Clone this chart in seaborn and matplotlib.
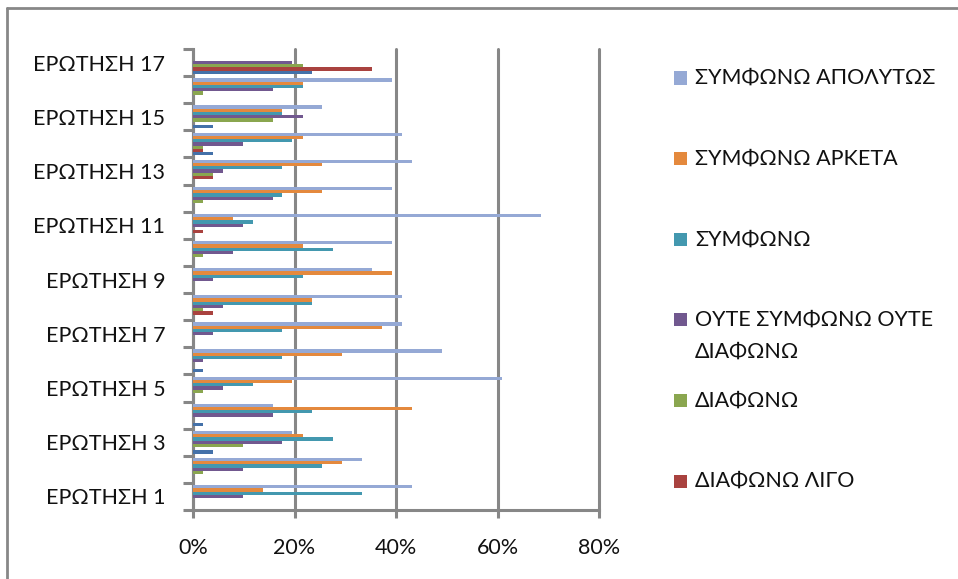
import matplotlib
matplotlib.use("Agg")
import matplotlib.pyplot as plt
from matplotlib.patches import Rectangle
from matplotlib.lines import Line2D
from matplotlib.ticker import FixedLocator, FuncFormatter
import seaborn as sns
import pandas as pd

# Questions (bottom to top on the chart)
questions = [f"ΕΡΩΤΗΣΗ {i}" for i in range(1, 18)]

# Share of answers per question (%), Q1 .. Q17
symfono_apolytos = [43.1, 33.3, 19.6, 15.7, 60.8, 49.0, 41.2, 41.2, 35.3, 39.2, 68.6, 39.2, 43.1, 41.2, 25.5, 39.2, 0.0]
symfono_arketa   = [13.7, 29.4, 21.6, 43.1, 19.6, 29.4, 37.3, 23.5, 39.2, 21.6, 7.8, 25.5, 25.5, 21.6, 17.6, 21.6, 0.0]
symfono          = [33.3, 25.5, 27.5, 23.5, 11.8, 17.6, 17.6, 23.5, 21.6, 27.5, 11.8, 17.6, 17.6, 19.6, 17.6, 21.6, 0.0]
oute_oute        = [9.8, 9.8, 17.6, 15.7, 5.9, 2.0, 3.9, 5.9, 3.9, 7.8, 9.8, 15.7, 5.9, 9.8, 21.6, 15.7, 19.6]
diafono          = [0.0, 2.0, 9.8, 0.0, 2.0, 0.0, 0.0, 2.0, 0.0, 2.0, 0.0, 2.0, 3.9, 2.0, 15.7, 2.0, 21.6]
diafono_ligo     = [0.0, 0.0, 0.0, 0.0, 0.0, 0.0, 0.0, 3.9, 0.0, 0.0, 2.0, 0.0, 3.9, 2.0, 0.0, 0.0, 35.3]
diafono_apolytos = [0.0, 0.0, 3.9, 2.0, 0.0, 2.0, 0.0, 0.0, 0.0, 0.0, 0.0, 0.0, 0.0, 3.9, 3.9, 0.0, 23.5]

series_names = [
    "ΣΥΜΦΩΝΩ ΑΠΟΛΥΤΩΣ",
    "ΣΥΜΦΩΝΩ ΑΡΚΕΤΑ",
    "ΣΥΜΦΩΝΩ",
    "ΟΥΤΕ ΣΥΜΦΩΝΩ ΟΥΤΕ ΔΙΑΦΩΝΩ",
    "ΔΙΑΦΩΝΩ",
    "ΔΙΑΦΩΝΩ ΛΙΓΟ",
    "ΔΙΑΦΩΝΩ ΑΠΟΛΥΤΩΣ",
]
series_values = [symfono_apolytos, symfono_arketa, symfono, oute_oute,
                 diafono, diafono_ligo, diafono_apolytos]
colors = ["#95A9D5", "#E4893D", "#4398AF", "#71588F", "#8AA64F", "#A9423F", "#4471A9"]

# Legend shows the first six series; the long label wraps onto two lines
legend_labels = [
    "ΣΥΜΦΩΝΩ ΑΠΟΛΥΤΩΣ",
    "ΣΥΜΦΩΝΩ ΑΡΚΕΤΑ",
    "ΣΥΜΦΩΝΩ",
    "ΟΥΤΕ ΣΥΜΦΩΝΩ ΟΥΤΕ\nΔΙΑΦΩΝΩ",
    "ΔΙΑΦΩΝΩ",
    "ΔΙΑΦΩΝΩ ΛΙΓΟ",
]

rows = []
for name, vals in zip(series_names, series_values):
    for q, v in zip(questions, vals):
        rows.append({"question": q, "answer": name, "value": v})
df = pd.DataFrame(rows)

sns.set_theme(style="white")
plt.rcParams["font.family"] = ["Lato", "Noto Sans", "DejaVu Sans"]

W, H = 958, 579
fig = plt.figure(figsize=(W / 100, H / 100), dpi=100)
fig.patch.set_facecolor("white")

ax_left, ax_right, ax_top, ax_bottom = 193, 599, 49, 510
ax = fig.add_axes([ax_left / W, 1 - ax_bottom / H,
                   (ax_right - ax_left) / W, (ax_bottom - ax_top) / H])

order = questions[::-1]
sns.barplot(data=df, y="question", x="value", hue="answer", orient="h",
            order=order, hue_order=series_names, palette=colors,
            width=0.84, saturation=1, linewidth=0, legend=False, ax=ax, zorder=3)

grid_c = "#878787"
ax.set_xlim(0, 80)
ax.set_ylim(len(questions) - 0.5, -0.5)
ax.set_xticks([0, 20, 40, 60, 80])
ax.xaxis.set_major_formatter(FuncFormatter(lambda v, _: f"{v:.0f}%"))
ax.grid(axis="x", color=grid_c, linewidth=2.2, zorder=0)
ax.grid(axis="y", visible=False)
for gl in ax.get_xgridlines():
    gl.set_clip_on(False)
ax.set_xlabel("")
ax.set_ylabel("")

# Label every other question; tick marks sit on category boundaries
label_pos = [i for i, q in enumerate(order) if int(q.split()[-1]) % 2 == 1]
ax.set_yticks(label_pos)
ax.set_yticklabels([order[i] for i in label_pos])
ax.yaxis.set_minor_locator(FixedLocator([i - 0.5 for i in range(len(order) + 1)]))
ax.tick_params(axis="y", which="major", length=0, pad=20, labelsize=15.5, labelcolor="#111111")
ax.tick_params(axis="y", which="minor", left=True, length=7, width=2.2, color=grid_c)
ax.tick_params(axis="x", which="major", bottom=True, length=6, width=2.2, color=grid_c,
               pad=14, labelsize=15.5, labelcolor="#111111")

for s in ["top", "right"]:
    ax.spines[s].set_visible(False)
for s in ["left", "bottom"]:
    ax.spines[s].set_color(grid_c)
    ax.spines[s].set_linewidth(2.2)

# Legend entries on the right
sq = 13
text_x = 695
first_y = 78
step = 80.6
for i, (lab, col) in enumerate(zip(legend_labels, colors[:6])):
    yc = first_y + i * step
    fig.patches.append(Rectangle((674 / W, 1 - (yc + sq / 2) / H), sq / W, sq / H,
                                 transform=fig.transFigure, facecolor=col,
                                 edgecolor="none", figure=fig))
    for j, line in enumerate(lab.split("\n")):
        fig.text(text_x / W, 1 - (yc + 32 * j) / H, line, ha="left", va="center",
                 fontsize=15.5, color="#111111")

# Chart frame: top and left edges
fig.add_artist(Line2D([7 / W, 1], [1 - 8 / H, 1 - 8 / H], transform=fig.transFigure,
                      color=grid_c, linewidth=2.0))
fig.add_artist(Line2D([7 / W, 7 / W], [0, 1 - 8 / H], transform=fig.transFigure,
                      color=grid_c, linewidth=2.0))

fig.savefig("out.png", dpi=100, facecolor="white")
